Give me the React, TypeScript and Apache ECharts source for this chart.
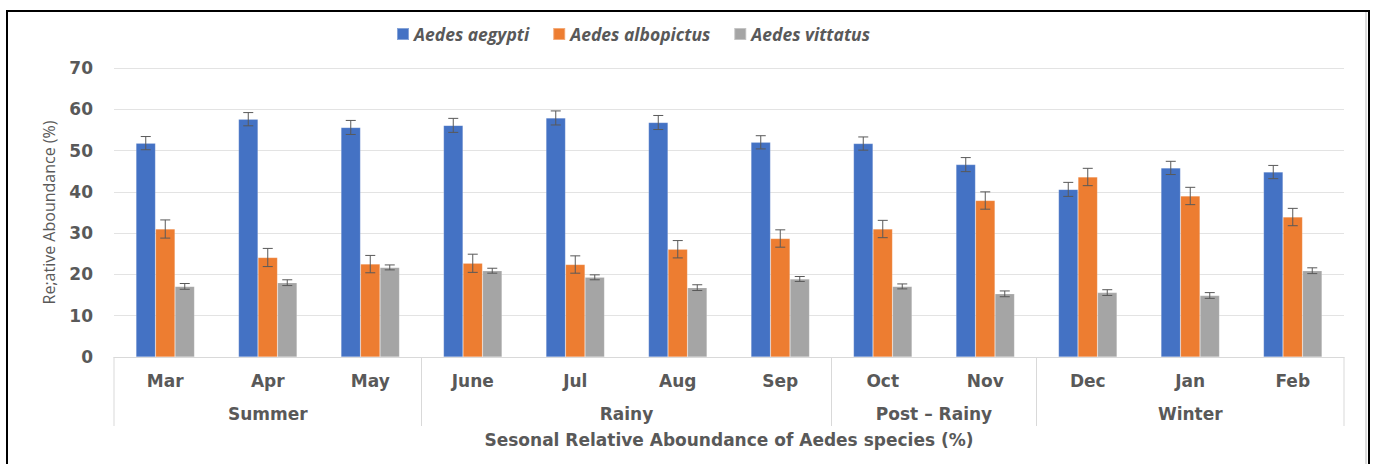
import React, { useEffect, useRef } from "react";
import * as echarts from "echarts";

const months = ["Mar", "Apr", "May", "June", "Jul", "Aug", "Sep", "Oct", "Nov", "Dec", "Jan", "Feb"];
const seriesNames = ["Aedes aegypti", "Aedes albopictus", "Aedes vittatus"];
const aegypti = [51.8, 57.6, 55.6, 56.1, 57.9, 56.8, 52.0, 51.7, 46.6, 40.6, 45.8, 44.8];
const albopictus = [31.0, 24.1, 22.5, 22.7, 22.4, 26.1, 28.7, 31.0, 37.9, 43.6, 39.0, 33.9];
const vittatus = [17.1, 18.0, 21.7, 20.9, 19.3, 16.8, 18.9, 17.1, 15.3, 15.6, 14.9, 20.9];
const aegyptiErr = [1.6, 1.6, 1.7, 1.7, 1.7, 1.7, 1.6, 1.6, 1.7, 1.7, 1.6, 1.6];
const albopictusErr = [2.2, 2.2, 2.1, 2.2, 2.1, 2.1, 2.1, 2.1, 2.1, 2.1, 2.1, 2.1];
const vittatusErr = [0.7, 0.7, 0.6, 0.6, 0.6, 0.7, 0.6, 0.6, 0.7, 0.7, 0.7, 0.7];
const seasonNames = ["Summer", "Rainy", "Post \u2013 Rainy", "Winter"];
const seasonStart = [0, 3, 7, 9];
const seasonEnd = [2, 6, 8, 11];
const yTicks = { min: 0, max: 70, interval: 10 };
const yTitle = "Re;ative Aboundance (%)";
const xTitle = "Sesonal Relative Aboundance of Aedes species (%)";

const colors = ["#4472C4", "#ED7D31", "#A5A5A5"];
const textColor = "#595959";
const FONT = "'DejaVu Sans', 'Open Sans', sans-serif";
const LEG_FONT = "'Open Sans', 'Noto Sans', sans-serif";
const BAR_W = 19.5;

export default function App() {
  const ref = useRef<HTMLDivElement>(null);
  useEffect(() => {
    const chart = echarts.init(ref.current!, null, { renderer: "svg" });
    const values = [aegypti, albopictus, vittatus];
    const errs = [aegyptiErr, albopictusErr, vittatusErr];

    const barSeries = values.map((v, k) => ({
      name: seriesNames[k],
      type: "bar",
      data: v,
      barWidth: BAR_W,
      barGap: "0%",
      itemStyle: { color: colors[k], borderColor: "rgba(255,255,255,0.35)", borderWidth: 0.5 },
      z: 2,
    }));

    const errSeries = values.map((v, k) => ({
      type: "custom",
      name: "err" + k,
      silent: true,
      z: 5,
      data: v.map((val, i) => [i, val - errs[k][i], val + errs[k][i]]),
      encode: { x: 0, y: [1, 2] },
      renderItem: (params: any, api: any) => {
        const c = api.value(0);
        const lo = api.coord([c, api.value(1)]);
        const hi = api.coord([c, api.value(2)]);
        const x = lo[0] + (k - 1) * BAR_W;
        const cap = 5;
        const st = { stroke: "#595959", lineWidth: 1 };
        return {
          type: "group",
          children: [
            { type: "line", shape: { x1: x, y1: hi[1], x2: x, y2: lo[1] }, style: st },
            { type: "line", shape: { x1: x - cap, y1: hi[1], x2: x + cap, y2: hi[1] }, style: st },
            { type: "line", shape: { x1: x - cap, y1: lo[1], x2: x + cap, y2: lo[1] }, style: st },
          ],
        };
      },
    }));

    const seasonSeries = {
      type: "custom",
      name: "seasons",
      silent: true,
      clip: false,
      z: 5,
      data: seasonNames.map((_, i) => [seasonStart[i], seasonEnd[i], 0]),
      encode: { x: [0, 1], y: 2 },
      renderItem: (params: any, api: any) => {
        const i = params.dataIndex;
        const band = api.size([1, 0])[0];
        const p0 = api.coord([api.value(0), 0]);
        const p1 = api.coord([api.value(1), 0]);
        const x0 = p0[0] - band / 2;
        const x1 = p1[0] + band / 2;
        const y0 = p0[1];
        const st = { stroke: "#d9d9d9", lineWidth: 1 };
        return {
          type: "group",
          children: [
            { type: "line", shape: { x1: x0, y1: y0, x2: x0, y2: y0 + 69 }, style: st },
            { type: "line", shape: { x1: x1, y1: y0, x2: x1, y2: y0 + 69 }, style: st },
            {
              type: "text",
              style: {
                text: seasonNames[i],
                x: (x0 + x1) / 2,
                y: y0 + 57,
                align: "center",
                verticalAlign: "middle",
                fill: textColor,
                font: `bold 17px ${FONT}`,
              },
            },
          ],
        };
      },
    };

    chart.setOption({
      animation: false,
      textStyle: { fontFamily: FONT },
      legend: {
        data: seriesNames,
        left: 391,
        top: 20,
        itemWidth: 12,
        itemHeight: 12,
        itemGap: 23,
        icon: "rect",
        textStyle: { color: textColor, fontSize: 17.5, fontWeight: "bold", fontStyle: "italic", fontFamily: LEG_FONT },
      },
      grid: { left: 114, right: 30, top: 68, bottom: 107 },
      xAxis: {
        type: "category",
        data: months,
        axisLine: { lineStyle: { color: "#d9d9d9", width: 1 } },
        axisTick: { show: false },
        axisLabel: { color: textColor, fontSize: 17, fontWeight: "bold", margin: 15, fontFamily: FONT },
        name: xTitle,
        nameLocation: "middle",
        nameGap: 74,
        nameTextStyle: { color: textColor, fontSize: 17, fontWeight: "bold", fontFamily: FONT },
      },
      yAxis: {
        type: "value",
        min: yTicks.min,
        max: yTicks.max,
        interval: yTicks.interval,
        axisLine: { show: false },
        axisTick: { show: false },
        splitLine: { lineStyle: { color: "#e3e3e3", width: 1 } },
        axisLabel: { color: textColor, fontSize: 17, fontWeight: "bold", margin: 21, fontFamily: FONT },
        name: yTitle,
        nameLocation: "middle",
        nameRotate: 90,
        nameGap: 57,
        nameTextStyle: { color: textColor, fontSize: 16, fontFamily: LEG_FONT },
      },
      series: [...barSeries, ...errSeries, seasonSeries],
    });
    return () => chart.dispose();
  }, []);

  return (
    <div style={{ position: "absolute", left: 0, top: 0, width: 1374, height: 464, overflow: "hidden", background: "#fff" }}>
      <div
        style={{
          position: "absolute",
          left: 6,
          top: 10,
          width: 1364,
          height: 480,
          border: "2.5px solid #000",
          boxSizing: "border-box",
        }}
      />
      <div style={{ position: "absolute", left: 1365, top: 12, width: 1.5, height: 460, background: "#dcdcdc" }} />
      <div ref={ref} style={{ position: "absolute", left: 0, top: 0, width: 1374, height: 464 }} />
    </div>
  );
}
